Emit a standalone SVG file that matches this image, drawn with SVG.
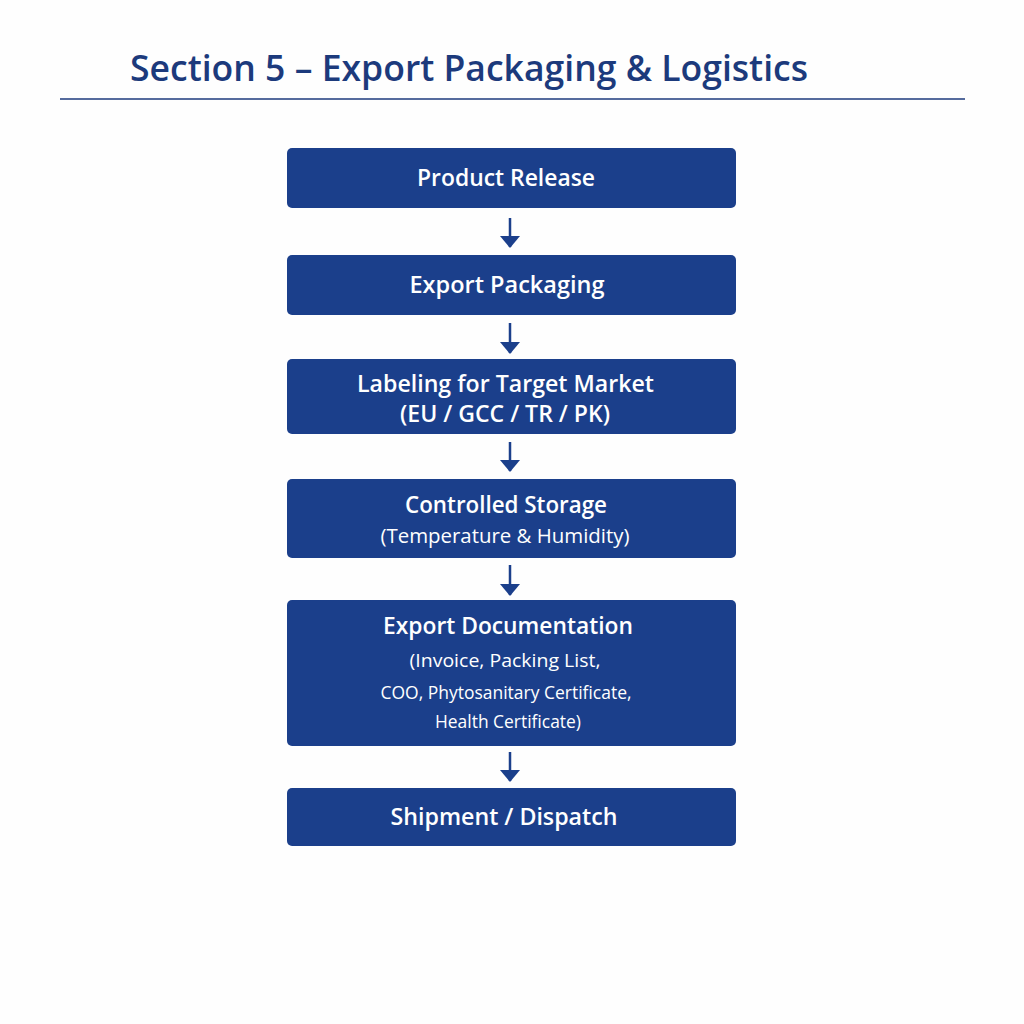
<svg xmlns="http://www.w3.org/2000/svg" width="1024" height="1024" viewBox="0 0 1024 1024">
<defs>
<style>
.box{fill:#1b3f8b;}
.t{font-family:"Open Sans","Noto Sans",sans-serif;fill:#fff;text-anchor:middle;}
.m{font-size:22.5px;font-weight:600;}
.s{font-size:20px;font-weight:500;}
.xs{font-size:18px;font-weight:400;}
.arr{stroke:#1b3f8b;stroke-width:2.5;fill:none;}
</style>
</defs>
<rect width="1024" height="1024" fill="#fefefe"/>
<text x="130" y="81" font-family="'Open Sans','Noto Sans',sans-serif" font-size="35.5" font-weight="600" fill="#1c3a7c" textLength="678" lengthAdjust="spacingAndGlyphs">Section 5 – Export Packaging &amp; Logistics</text>
<line x1="60" y1="99" x2="965" y2="99" stroke="#1c3a7c" stroke-width="1.5"/>
<g id="connectors">
<path class="arr" d="M510 218 V247"/><path d="M500 236 L510 248 L520 236 Z" fill="#1b3f8b"/>
<path class="arr" d="M510 323 V353"/><path d="M500 342 L510 354 L520 342 Z" fill="#1b3f8b"/>
<path class="arr" d="M510 442 V471"/><path d="M500 460 L510 472 L520 460 Z" fill="#1b3f8b"/>
<path class="arr" d="M510 565 V595"/><path d="M500 584 L510 596 L520 584 Z" fill="#1b3f8b"/>
<path class="arr" d="M510 752 V781"/><path d="M500 770 L510 782 L520 770 Z" fill="#1b3f8b"/>
</g>
<g id="n1"><rect class="box" x="287" y="148" width="449" height="60" rx="5"/><text class="t m" x="506" y="186" textLength="178" lengthAdjust="spacingAndGlyphs">Product Release</text></g>
<g id="n2"><rect class="box" x="287" y="255" width="449" height="60" rx="5"/><text class="t m" x="507" y="293" textLength="195" lengthAdjust="spacingAndGlyphs">Export Packaging</text></g>
<g id="n3"><rect class="box" x="287" y="359" width="449" height="75" rx="5"/><text class="t m" x="505.5" y="392" textLength="297" lengthAdjust="spacingAndGlyphs">Labeling for Target Market</text><text class="t m" x="505" y="422" textLength="210" lengthAdjust="spacingAndGlyphs">(EU / GCC / TR / PK)</text></g>
<g id="n4"><rect class="box" x="287" y="479" width="449" height="79" rx="5"/><text class="t m" x="506" y="513" textLength="202" lengthAdjust="spacingAndGlyphs">Controlled Storage</text><text class="t s" x="505" y="543" textLength="249" lengthAdjust="spacingAndGlyphs">(Temperature &amp; Humidity)</text></g>
<g id="n5"><rect class="box" x="287" y="600" width="449" height="146" rx="5"/><text class="t m" x="508" y="634" textLength="250" lengthAdjust="spacingAndGlyphs">Export Documentation</text><text class="t xs" x="505" y="667" textLength="191" lengthAdjust="spacingAndGlyphs">(Invoice, Packing List,</text><text class="t xs" x="506" y="699" textLength="251" lengthAdjust="spacingAndGlyphs">COO, Phytosanitary Certificate,</text><text class="t xs" x="508" y="728" textLength="146" lengthAdjust="spacingAndGlyphs">Health Certificate)</text></g>
<g id="n6"><rect class="box" x="287" y="788" width="449" height="58" rx="5"/><text class="t m" x="504" y="825" textLength="227" lengthAdjust="spacingAndGlyphs">Shipment / Dispatch</text></g>
</svg>
